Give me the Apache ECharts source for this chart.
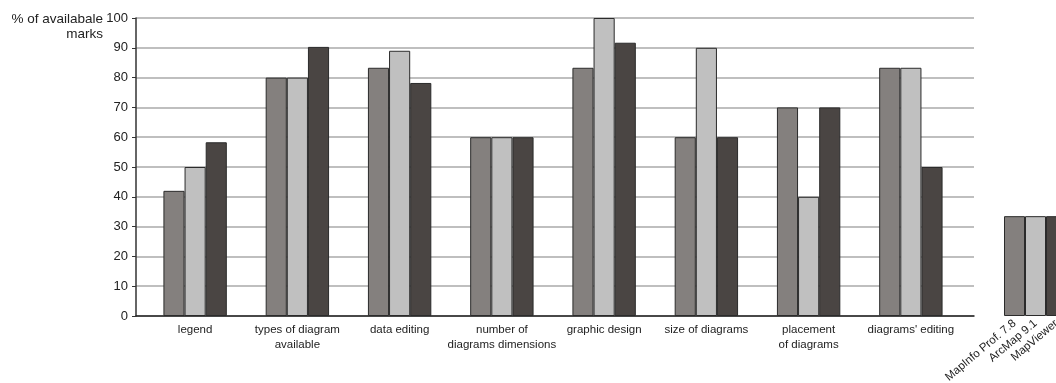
<!DOCTYPE html>
<html>
<head>
<meta charset="utf-8">
<script src="https://cdn.jsdelivr.net/npm/echarts@6/dist/echarts.min.js"></script>
<style>html,body{margin:0;padding:0;background:#fff}#c{width:1056px;height:383px}</style>
</head>
<body>
<div id="c"></div>
<script>
const categories = ['legend', 'types of diagram\navailable', 'data editing', 'number of\ndiagrams dimensions', 'graphic design', 'size of diagrams', 'placement\nof diagrams', "diagrams' editing"];
const seriesNames = ['MapInfo Prof. 7.8', 'ArcMap 9.1', 'MapViewer'];
const mapInfo = [42, 80, 83.3, 60, 83.3, 60, 70, 83.3];
const arcMap = [50, 80, 89, 60, 100, 90, 40, 83.3];
const mapViewer = [58.3, 90.3, 78.2, 60, 91.7, 60, 70, 50];
const legendHeights = [33.5, 33.5, 33.5];
const yTicks = [0, 10, 20, 30, 40, 50, 60, 70, 80, 90, 100];
const yTitle = '% of availabale\nmarks';

const colors = ['#84807e', '#c0c0c0', '#4a4543'];
const font = 'Liberation Sans, Arial, sans-serif';
const chart = echarts.init(document.getElementById('c'), null, {renderer: 'canvas'});
const barStyle = i => ({color: colors[i], borderColor: '#2b2b2b', borderWidth: 1});
const values = [mapInfo, arcMap, mapViewer];

const series = values.map((v, i) => ({
  type: 'bar', name: seriesNames[i], xAxisIndex: 1, yAxisIndex: 1,
  data: v, itemStyle: barStyle(i), barGap: '0%', barCategoryGap: '38%', silent: true
}));
series.push({
  type: 'bar', xAxisIndex: 2, yAxisIndex: 2, silent: true,
  data: legendHeights.map((h, i) => ({value: h, itemStyle: barStyle(i)})),
  barWidth: '100%'
});

chart.setOption({
  animation: false,
  textStyle: {fontFamily: font},
  grid: [
    {left: 136, right: 82, top: 18, bottom: 67, outerBoundsMode: 'none', containLabel: false},
    {left: 144, right: 94, top: 18, bottom: 67, outerBoundsMode: 'none', containLabel: false},
    {left: 1004, width: 63, top: 18, bottom: 67, outerBoundsMode: 'none', containLabel: false}
  ],
  xAxis: [
    {gridIndex: 0, type: 'value', min: 0, max: 1, axisLine: {show: true, lineStyle: {color: '#222', width: 1.5}}, axisTick: {show: false}, axisLabel: {show: false}, splitLine: {show: false}},
    {gridIndex: 1, type: 'category', data: categories, axisLine: {show: false}, axisTick: {show: false},
     axisLabel: {fontSize: 11.5, color: '#222', margin: 6, lineHeight: 15, interval: 0, fontFamily: font}},
    {gridIndex: 2, type: 'category', data: seriesNames, axisLine: {show: false}, axisTick: {show: false},
     axisLabel: {fontSize: 11.5, color: '#222', rotate: 40, margin: 6, interval: 0, fontFamily: font}}
  ],
  yAxis: [
    {gridIndex: 0, type: 'value', min: yTicks[0], max: yTicks[yTicks.length - 1], interval: 10,
     axisLine: {show: true, lineStyle: {color: '#333', width: 1.5}},
     axisTick: {show: true, length: 4, lineStyle: {color: '#333'}},
     axisLabel: {fontSize: 13, color: '#222', margin: 8, fontFamily: font},
     splitLine: {show: true, lineStyle: {color: '#aaaaaa', width: 1.5}}},
    {gridIndex: 1, type: 'value', min: 0, max: 100, show: false},
    {gridIndex: 2, type: 'value', min: 0, max: 100, show: false}
  ],
  graphic: [{
    type: 'text', x: 103, y: 12,
    style: {text: yTitle, fontSize: 13.5, fill: '#222', align: 'right', verticalAlign: 'top', lineHeight: 15, fontFamily: font}
  }],
  series: series
});
</script>
</body>
</html>
